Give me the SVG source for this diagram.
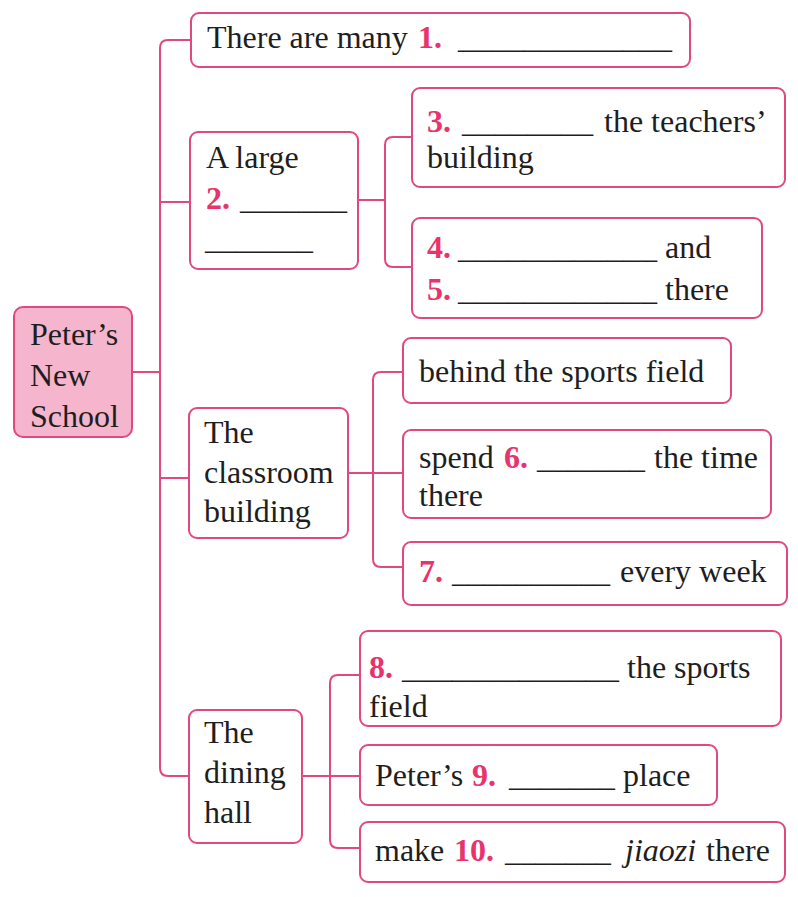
<svg xmlns="http://www.w3.org/2000/svg" width="798" height="897" viewBox="0 0 798 897">
<style>
.box{fill:#ffffff;stroke:#e0487f;stroke-width:2}
.root{fill:#f4b5cd;stroke:#e0487f;stroke-width:2}
.conn{fill:none;stroke:#e0487f;stroke-width:2}
text{font-family:"Liberation Serif","Times New Roman",serif;font-size:32px;fill:#1e1e1e}
.n{font-weight:bold;fill:#e8336d}
.i{font-style:italic}
</style>
<rect width="798" height="897" fill="#ffffff"/>
<g id="connectors">
<path class="conn" d="M132,372 H160"/>
<path class="conn" d="M191,40 H168 Q160,40 160,48 V768 Q160,776 168,776 H189"/>
<path class="conn" d="M160,202 H190"/>
<path class="conn" d="M160,478 H189"/>
<path class="conn" d="M358,200 H385"/>
<path class="conn" d="M412,137 H393 Q385,137 385,145 V259 Q385,267 393,267 H412"/>
<path class="conn" d="M348,473 H403"/>
<path class="conn" d="M403,372 H381 Q373,372 373,380 V559 Q373,567 381,567 H403"/>
<path class="conn" d="M302,776 H360"/>
<path class="conn" d="M360,675 H338 Q330,675 330,683 V840 Q330,848 338,848 H360"/>
</g>
<g id="root">
<rect class="root" x="14" y="307" width="118" height="130" rx="9"/>
<text x="30" y="345">Peter’s</text>
<text x="30" y="386">New</text>
<text x="30" y="427">School</text>
</g>
<g id="n1">
<rect class="box" x="191" y="13" width="499" height="54" rx="8"/>
<text x="207" y="48">There are many</text>
<text class="n" x="418" y="48">1.</text>
<text x="458" y="48" textLength="214" lengthAdjust="spacingAndGlyphs">_____________</text>
</g>
<g id="n2">
<rect class="box" x="190" y="132" width="168" height="137" rx="8"/>
<text x="206" y="168">A large</text>
<text class="n" x="206" y="209">2.</text>
<text x="240" y="209" textLength="107" lengthAdjust="spacingAndGlyphs">_______</text>
<text x="205" y="249" textLength="108" lengthAdjust="spacingAndGlyphs">_______</text>
</g>
<g id="n3">
<rect class="box" x="412" y="88" width="373" height="99" rx="8"/>
<text class="n" x="427" y="132">3.</text>
<text x="462" y="132" textLength="131" lengthAdjust="spacingAndGlyphs">________</text>
<text x="604" y="132">the teachers’</text>
<text x="427" y="168">building</text>
</g>
<g id="n4">
<rect class="box" x="412" y="218" width="350" height="100" rx="8"/>
<text class="n" x="427" y="258">4.</text>
<text x="458" y="258" textLength="199" lengthAdjust="spacingAndGlyphs">____________</text>
<text x="665" y="258">and</text>
<text class="n" x="427" y="300">5.</text>
<text x="458" y="300" textLength="199" lengthAdjust="spacingAndGlyphs">____________</text>
<text x="665" y="300">there</text>
</g>
<g id="n_classroom">
<rect class="box" x="189" y="408" width="159" height="130" rx="8"/>
<text x="204" y="443">The</text>
<text x="204" y="483">classroom</text>
<text x="204" y="522">building</text>
</g>
<g id="n_behind">
<rect class="box" x="403" y="338" width="328" height="65" rx="8"/>
<text x="419" y="382">behind the sports field</text>
</g>
<g id="n6">
<rect class="box" x="403" y="430" width="368" height="88" rx="8"/>
<text x="419" y="468">spend</text>
<text class="n" x="504" y="468">6.</text>
<text x="537" y="468" textLength="108" lengthAdjust="spacingAndGlyphs">_______</text>
<text x="654" y="468">the time</text>
<text x="419" y="506">there</text>
</g>
<g id="n7">
<rect class="box" x="403" y="542" width="384" height="63" rx="8"/>
<text class="n" x="419" y="582">7.</text>
<text x="452" y="582" textLength="158" lengthAdjust="spacingAndGlyphs">__________</text>
<text x="620" y="582">every week</text>
</g>
<g id="n_dining">
<rect class="box" x="189" y="710" width="113" height="133" rx="8"/>
<text x="204" y="743">The</text>
<text x="204" y="783">dining</text>
<text x="204" y="823">hall</text>
</g>
<g id="n8">
<rect class="box" x="360" y="631" width="421" height="95" rx="8"/>
<text class="n" x="369" y="678">8.</text>
<text x="402" y="678" textLength="217" lengthAdjust="spacingAndGlyphs">_____________</text>
<text x="627" y="678">the sports</text>
<text x="369" y="717">field</text>
</g>
<g id="n9">
<rect class="box" x="360" y="745" width="357" height="60" rx="8"/>
<text x="375" y="786">Peter’s</text>
<text class="n" x="472" y="786">9.</text>
<text x="509" y="786" textLength="106" lengthAdjust="spacingAndGlyphs">_______</text>
<text x="623" y="786">place</text>
</g>
<g id="n10">
<rect class="box" x="360" y="822" width="425" height="60" rx="8"/>
<text x="375" y="861">make</text>
<text class="n" x="454" y="861">10.</text>
<text x="505" y="861" textLength="106" lengthAdjust="spacingAndGlyphs">_______</text>
<text class="i" x="625" y="861">jiaozi</text>
<text x="706" y="861">there</text>
</g>
</svg>
